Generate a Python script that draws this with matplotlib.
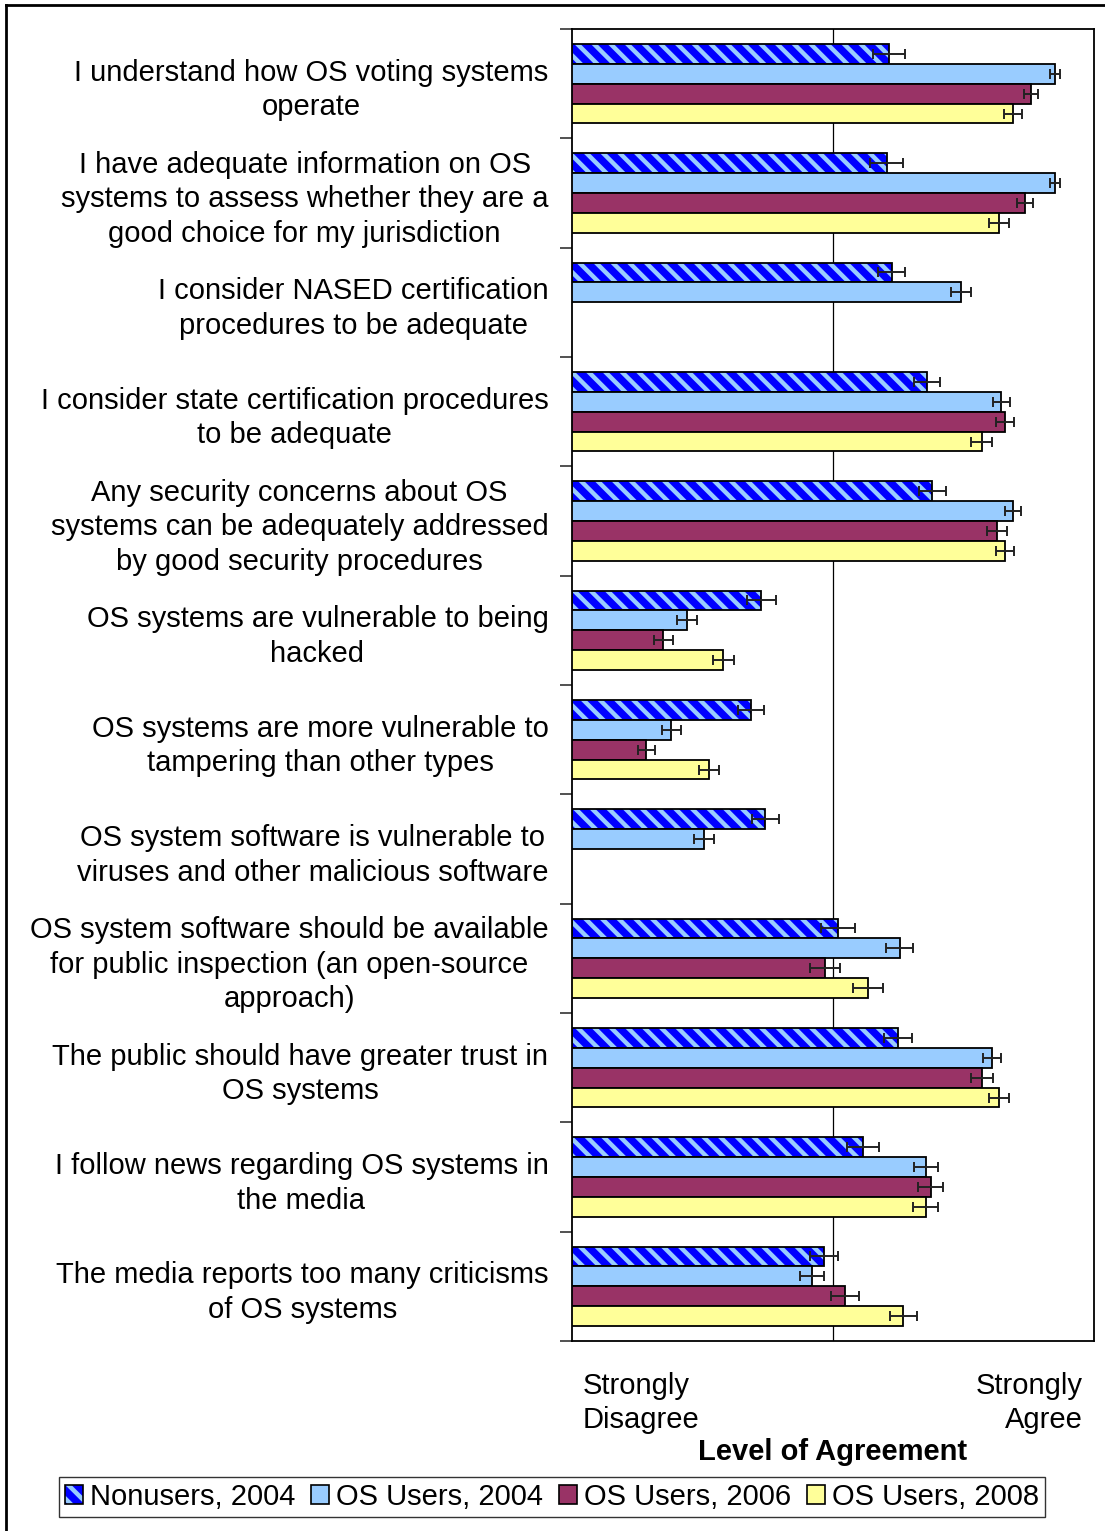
import numpy as np
import matplotlib
matplotlib.use("Agg")
import matplotlib.pyplot as plt
from matplotlib.patches import Patch
from matplotlib.legend_handler import HandlerTuple

plt.rcParams['font.family'] = ['Liberation Sans', 'DejaVu Sans']
plt.rcParams['hatch.linewidth'] = 3.2

statements = [
    "I understand how OS voting systems\noperate",
    "I have adequate information on OS\nsystems to assess whether they are a\ngood choice for my jurisdiction",
    "I consider NASED certification\nprocedures to be adequate",
    "I consider state certification procedures\nto be adequate",
    "Any security concerns about OS\nsystems can be adequately addressed\nby good security procedures",
    "OS systems are vulnerable to being\nhacked",
    "OS systems are more vulnerable to\ntampering than other types",
    "OS system software is vulnerable to\nviruses and other malicious software",
    "OS system software should be available\nfor public inspection (an open-source\napproach)",
    "The public should have greater trust in\nOS systems",
    "I follow news regarding OS systems in\nthe media",
    "The media reports too many criticisms\nof OS systems",
]

series_names = ["Nonusers, 2004", "OS Users, 2004", "OS Users, 2006", "OS Users, 2008"]

# mean agreement, 1 = strongly disagree ... 5 = strongly agree (nan = not asked)
nonusers_2004 = [3.43, 3.41, 3.45, 3.72, 3.76, 2.45, 2.37, 2.48, 3.04, 3.50, 3.23, 2.93]
os_users_2004 = [4.70, 4.70, 3.98, 4.29, 4.38, 1.88, 1.76, 2.01, 3.51, 4.22, 3.71, 2.84]
os_users_2006 = [4.52, 4.47, np.nan, 4.32, 4.26, 1.70, 1.57, np.nan, 2.94, 4.14, 3.75, 3.09]
os_users_2008 = [4.38, 4.27, np.nan, 4.14, 4.32, 2.16, 2.05, np.nan, 3.27, 4.27, 3.71, 3.54]

# standard errors
err_nonusers_2004 = [0.120, 0.126, 0.103, 0.100, 0.103, 0.110, 0.100, 0.103, 0.130, 0.108, 0.123, 0.107]
err_os_users_2004 = [0.038, 0.038, 0.075, 0.063, 0.059, 0.075, 0.074, 0.077, 0.104, 0.069, 0.093, 0.093]
err_os_users_2006 = [0.054, 0.059, np.nan, 0.068, 0.077, 0.075, 0.067, np.nan, 0.115, 0.083, 0.096, 0.107]
err_os_users_2008 = [0.069, 0.077, np.nan, 0.080, 0.069, 0.083, 0.079, np.nan, 0.116, 0.077, 0.097, 0.100]

means = [nonusers_2004, os_users_2004, os_users_2006, os_users_2008]
errs = [err_nonusers_2004, err_os_users_2004, err_os_users_2006, err_os_users_2008]
colors = ["#0000FF", "#99CCFF", "#993366", "#FFFF99"]

fs = 21

fig = plt.figure(figsize=(11.05, 15.31), dpi=100)
ax = fig.add_axes([572 / 1105, 1 - 1341 / 1531, 522 / 1105, 1312 / 1531])

y = np.arange(len(statements))
h = 0.182
offsets = [-1.5 * h, -0.5 * h, 0.5 * h, 1.5 * h]
base = 1.0

for i in range(4):
    vals = np.array(means[i], dtype=float)
    e = np.array(errs[i], dtype=float)
    yy = y + offsets[i]
    ok = ~np.isnan(vals)
    if i == 0:
        # striped bars: blue with light blue diagonal hatch, then a black outline on top
        ax.barh(yy[ok], vals[ok] - base, left=base, height=h, color=colors[0],
                edgecolor="#99CCFF", hatch="\\\\", linewidth=0, zorder=2)
        ax.barh(yy[ok], vals[ok] - base, left=base, height=h, fill=False,
                edgecolor="black", linewidth=1.3, zorder=3)
    else:
        ax.barh(yy[ok], vals[ok] - base, left=base, height=h, color=colors[i],
                edgecolor="black", linewidth=1.3, zorder=3)
    ax.errorbar(vals[ok], yy[ok], xerr=e[ok], fmt="none", ecolor="#222222",
                elinewidth=1.4, capsize=3.6, capthick=1.4, zorder=4)

ax.set_xlim(1, 5)
ax.set_ylim(len(statements) - 0.5, -0.5)
ax.axvline(3, color="black", linewidth=0.9, zorder=1)

ax.set_xticks([])
ax.set_yticks(y)
ax.set_yticklabels(statements, fontsize=fs)
for lbl in ax.get_yticklabels():
    lbl.set_multialignment("center")
    lbl.set_linespacing(1.3)
ax.tick_params(axis="y", which="major", length=0, pad=17)
ax.set_yticks(np.arange(len(statements) + 1) - 0.5, minor=True)
ax.tick_params(axis="y", which="minor", length=9, width=1.2, direction="out", color="#333333")

for s in ax.spines.values():
    s.set_linewidth(1.3)
    s.set_color("black")

fig.text(583 / 1105, 1 - 1403 / 1531, "Strongly\nDisagree", fontsize=fs,
         ha="left", va="center", linespacing=1.3)
fig.text(1083 / 1105, 1 - 1403 / 1531, "Strongly\nAgree", fontsize=fs,
         ha="right", va="center", multialignment="right", linespacing=1.3)
fig.text(833 / 1105, 1 - 1452 / 1531, "Level of Agreement", fontsize=fs,
         fontweight="bold", ha="center", va="center")

# legend with square swatches
hatch_patch = Patch(facecolor=colors[0], edgecolor="#99CCFF", hatch="\\\\", linewidth=0)
outline = Patch(facecolor="none", edgecolor="black", linewidth=1.2)
handles = [(hatch_patch, outline)] + [Patch(facecolor=c, edgecolor="black", linewidth=1.2)
                                      for c in colors[1:]]
leg = fig.legend(handles, series_names, loc="center", ncol=4,
                 bbox_to_anchor=(552 / 1105, 1 - 1497 / 1531),
                 fontsize=fs, frameon=True, fancybox=False,
                 handlelength=0.6, handleheight=0.6, handletextpad=0.25,
                 columnspacing=0.55, borderpad=0.2, borderaxespad=0,
                 handler_map={tuple: HandlerTuple(ndivide=1)})
leg.get_frame().set_edgecolor("black")
leg.get_frame().set_linewidth(1.0)

# outer frame (top and left edges)
fig.add_artist(plt.Line2D([6 / 1105, 6 / 1105], [0, 1 - 5 / 1531], transform=fig.transFigure,
                          color="black", linewidth=2))
fig.add_artist(plt.Line2D([6 / 1105, 1], [1 - 5 / 1531, 1 - 5 / 1531], transform=fig.transFigure,
                          color="black", linewidth=2))

fig.savefig("out.png", dpi=100)
